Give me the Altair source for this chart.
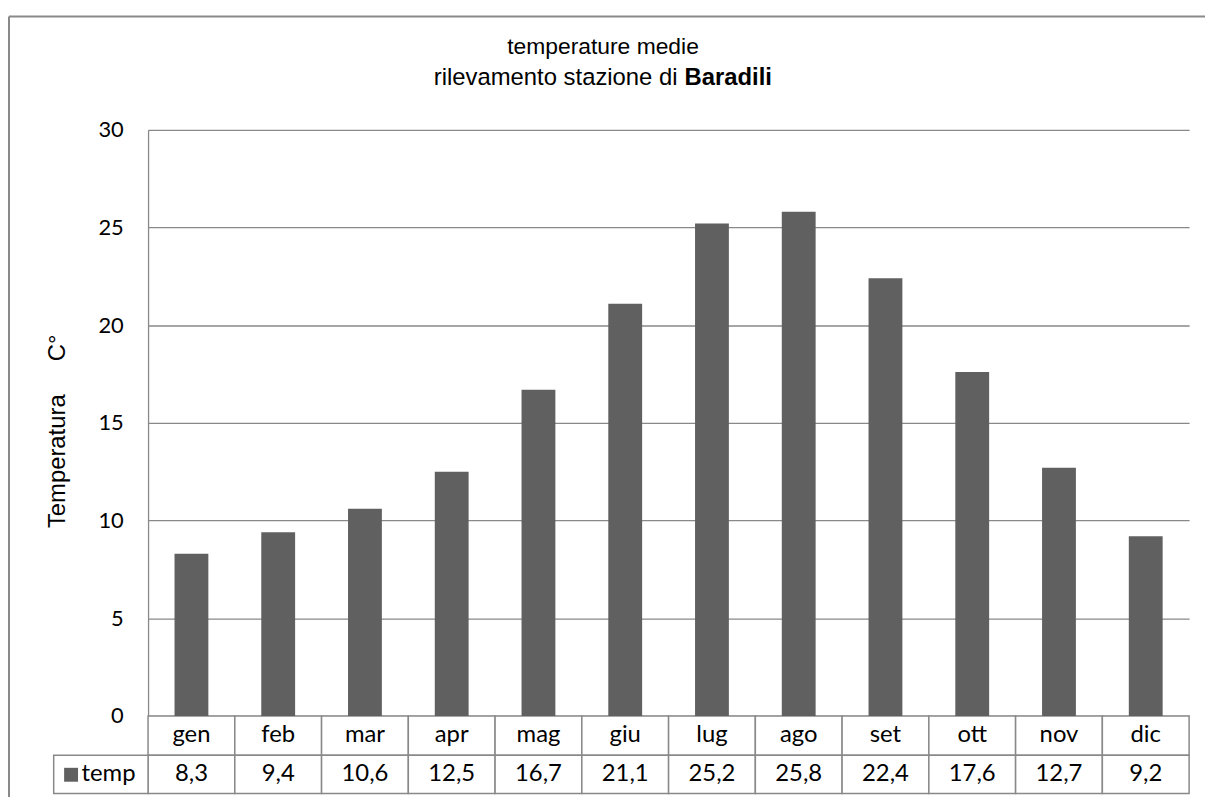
import altair as alt
import pandas as pd

# ---- data ----
months = ["gen", "feb", "mar", "apr", "mag", "giu", "lug", "ago", "set", "ott", "nov", "dic"]
temps = [8.3, 9.4, 10.6, 12.5, 16.7, 21.1, 25.2, 25.8, 22.4, 17.6, 12.7, 9.2]
series_name = ["temp"]
y_ticks = [0, 5, 10, 15, 20, 25, 30]
title_line1 = ["temperature medie"]
title_line2_normal = ["rilevamento stazione di"]
title_line2_bold = ["Baradili"]
y_title = "Temperatura\u00a0\u00a0\u00a0\u00a0\u00a0C°"

df = pd.DataFrame({"month": months, "temp": temps})
one = pd.DataFrame({"name": series_name})

W, H = 1048, 590
GRID = "#898989"
BAR = "#606060"
LABEL_FONT = "Lato"
TITLE_FONT = "Liberation Sans"
TFS = 24  # table font size

xscale = alt.Scale(domain=months, paddingInner=0, paddingOuter=0)
X = alt.X("month:N", scale=xscale, axis=None, sort=months)

base = alt.Chart(df)

bars = base.mark_bar(width=alt.RelativeBandSize(0.39), color=BAR).encode(
    x=X,
    y=alt.Y(
        "temp:Q",
        scale=alt.Scale(domain=[0, 30], nice=False),
        axis=alt.Axis(
            values=y_ticks,
            grid=True,
            gridColor=GRID,
            gridWidth=1.3,
            domainColor=GRID,
            domainWidth=1.3,
            ticks=False,
            tickSize=0,
            labelPadding=25,
            labelFont=LABEL_FONT,
            labelFontSize=22,
            labelColor="black",
            title=y_title,
            titleFont=TITLE_FONT,
            titleFontSize=24,
            titleFontWeight="normal",
            titleColor="black",
            titleBaseline="alphabetic",
            titleX=-84,
            titleY=303,
        ),
    ),
)

R1A, R1B, R2B = 590, 629.5, 668
row1 = base.mark_rect(fill="white", stroke=GRID, strokeWidth=1.5).encode(
    x=X, y=alt.value(R1A), y2=alt.value(R1B)
)
row2 = base.mark_rect(fill="white", stroke=GRID, strokeWidth=1.5).encode(
    x=X, y=alt.value(R1B), y2=alt.value(R2B)
)
month_txt = base.mark_text(font=LABEL_FONT, fontSize=TFS, color="black", baseline="middle").encode(
    x=X, y=alt.value((R1A + R1B) / 2), text="month:N"
)
val_txt = base.transform_calculate(
    lab="replace(format(datum.temp, '.1f'), '.', ',')"
).mark_text(font=LABEL_FONT, fontSize=TFS, color="black", baseline="middle").encode(
    x=X, y=alt.value((R1B + R2B) / 2), text="lab:N"
)

onec = alt.Chart(one)
left_cell = onec.mark_rect(fill="white", stroke=GRID, strokeWidth=1.5).encode(
    x=alt.value(-95), x2=alt.value(0), y=alt.value(R1B), y2=alt.value(R2B)
)
left_sq = onec.mark_square(size=196, color=BAR, opacity=1).encode(
    x=alt.value(-77.5), y=alt.value((R1B + R2B) / 2 + 0.5)
)
left_txt = onec.mark_text(font=LABEL_FONT, fontSize=TFS, color="black", align="left", baseline="middle").encode(
    x=alt.value(-67), y=alt.value((R1B + R2B) / 2), text="name:N"
)

t1 = alt.Chart(pd.DataFrame({"t": title_line1})).mark_text(
    font=TITLE_FONT, fontSize=23, color="black", align="center", baseline="alphabetic"
).encode(x=alt.value(458), y=alt.value(-76), text="t:N")
t2a = alt.Chart(pd.DataFrame({"t": title_line2_normal})).mark_text(
    font=TITLE_FONT, fontSize=24, color="black", align="right", baseline="alphabetic"
).encode(x=alt.value(533), y=alt.value(-45.5), text="t:N")
t2b = alt.Chart(pd.DataFrame({"t": title_line2_bold})).mark_text(
    font=TITLE_FONT, fontSize=24, fontWeight="bold", color="black", align="left", baseline="alphabetic"
).encode(x=alt.value(540), y=alt.value(-45.5), text="t:N")

border_left = onec.mark_rule(color=GRID, strokeWidth=2).encode(
    x=alt.value(-140), y=alt.value(-114), y2=alt.value(700)
)
border_top = onec.mark_rule(color=GRID, strokeWidth=2).encode(
    x=alt.value(-140), x2=alt.value(1070), y=alt.value(-114)
)

chart = alt.layer(
    border_left, border_top, t1, t2a, t2b,
    row1, row2, left_cell, month_txt, val_txt, left_sq, left_txt, bars
).properties(
    width=W,
    height=H,
    autosize=alt.AutoSizeParams(type="none"),
    padding={"left": 141, "top": 120, "right": 16, "bottom": 79},
    background="white",
).configure_view(stroke=None)

chart.save("out.html", embed_options={"renderer": "svg", "actions": False})
